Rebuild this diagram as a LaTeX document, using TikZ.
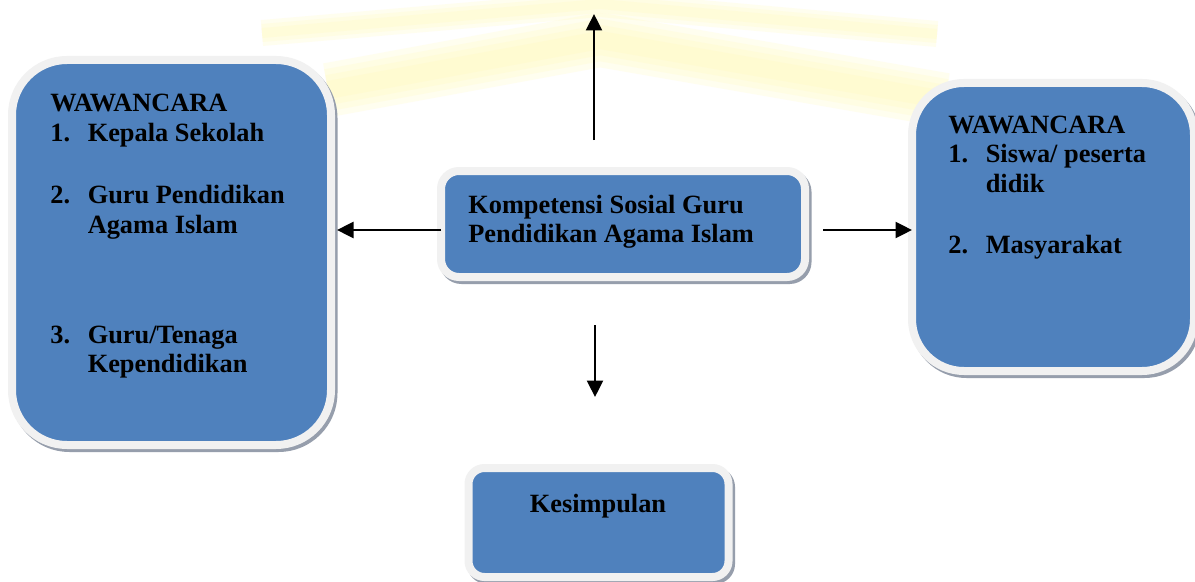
\documentclass[tikz,border=0pt]{standalone}
\usepackage{fontspec}
\setmainfont{Liberation Serif}
\usetikzlibrary{arrows.meta,calc}
\definecolor{boxblue}{RGB}{79,129,189}
\definecolor{framegray}{RGB}{241,241,241}
\definecolor{shadowgray}{RGB}{150,158,172}
\definecolor{wmyellow}{RGB}{255,251,185}
\newlength\pxl
\setlength\pxl{0.02cm}
\tikzset{
  box/.style={rectangle, draw=framegray, fill=boxblue, line width=8\pxl,
    preaction={draw=shadowgray, fill=shadowgray, transform canvas={xshift=2.5\pxl, yshift=-3\pxl}}},
  txt/.style={inner sep=0pt, anchor=base west, font=\fontsize{15}{17.07}\selectfont\bfseries},
  arr/.style={line width=1.4pt, -{Triangle[length=0.33cm, width=0.32cm]}},
  wmband/.style={wmyellow, opacity=0.22, line join=round}
}
\begin{document}
\begin{tikzpicture}[x=0.02cm, y=-0.02cm]
\useasboundingbox (0,0) rectangle (1195,581);
\fill[white] (0,0) rectangle (1195,581);

% watermark (faint yellow chevrons)
\foreach \w in {26,18,10}{
  \draw[wmband, line width=\w\pxl] (262,33) -- (600,4) -- (937,34);
}
\foreach \w in {54,42,30,18}{
  \draw[wmband, line width=\w\pxl] (328,90) -- (600,40) -- (945,100);
}

% boxes
\node[box, minimum width=319\pxl, minimum height=385\pxl, rounded corners=55\pxl] (left) at (171.5,252.5) {};
\node[box, minimum width=364\pxl, minimum height=106\pxl, rounded corners=18\pxl] (center) at (623,224) {};
\node[box, minimum width=282\pxl, minimum height=288\pxl, rounded corners=52\pxl] (right) at (1053,227) {};
\node[box, minimum width=260\pxl, minimum height=109\pxl, rounded corners=16\pxl] (concl) at (598.5,522.5) {};

% texts
\node[txt] (lefttext) at (50,112) {\begin{tabular}[t]{@{}p{21.3pt}@{}l@{}}
\multicolumn{2}{@{}l@{}}{WAWANCARA}\\
1. & Kepala Sekolah\\[18.2pt]
2. & Guru Pendidikan\\
   & Agama Islam\\[45pt]
3. & Guru/Tenaga\\
   & Kependidikan
\end{tabular}};
\node[txt] (centertext) at (468,213) {\begin{tabular}[t]{@{}l@{}}
Kompetensi Sosial Guru\\
Pendidikan Agama Islam
\end{tabular}};
\node[txt] (righttext) at (948,133) {\begin{tabular}[t]{@{}p{21.3pt}@{}l@{}}
\multicolumn{2}{@{}l@{}}{WAWANCARA}\\
1. & Siswa/ peserta\\
   & didik\\[17.6pt]
2. & Masyarakat
\end{tabular}};
\node[txt, anchor=base] (concltext) at (598,512) {Kesimpulan};

% connectors
\coordinate (topend) at (594,14);
\draw[arr] ($(center.north)+(-29,-27)$) -- (topend);
\draw[arr] ($(center.west)+(4,6)$) -- ($(left.east |- center.west)+(2,6)$);
\draw[arr] ($(center.east)+(14,6)$) -- ($(right.west |- center.east)+(4,6)$);
\draw[arr] ($(center.south)+(-28,44)$) -- ($(concl.north)+(-3.5,-67)$);
\end{tikzpicture}
\end{document}
